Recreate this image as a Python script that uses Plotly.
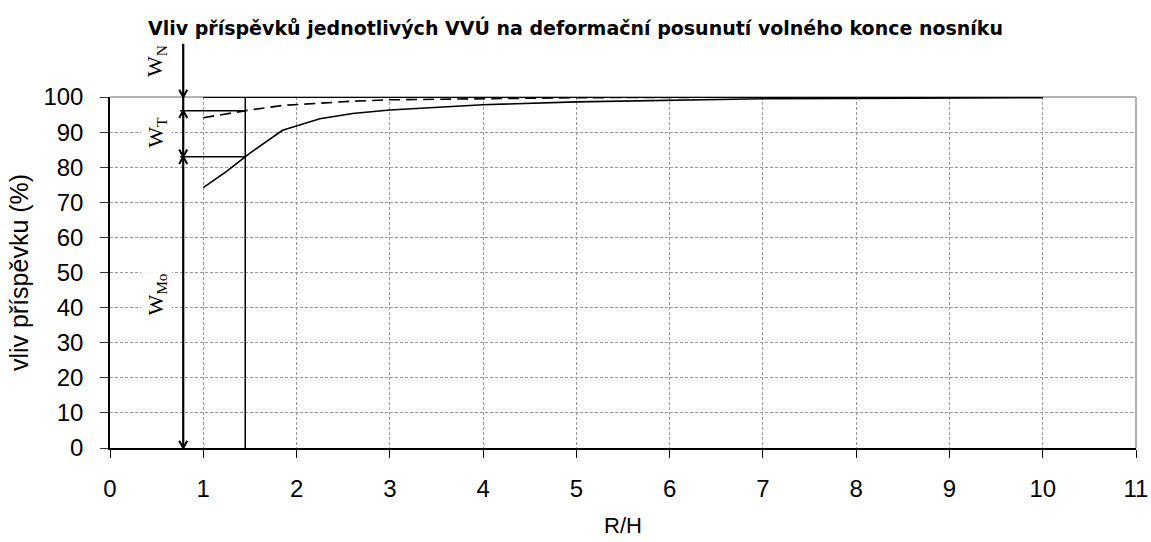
import numpy as np
import plotly.graph_objects as go

# R/H ratios and the share (%) of the free-end deflection
rh = [1.0, 1.25, 1.5, 1.85, 2.25, 2.6, 3.0, 4.0, 5.0, 6.0, 7.0, 8.0, 9.0, 10.0]
w_mo = [74.2, 78.8, 84.0, 90.5, 93.8, 95.3, 96.3, 97.8, 98.6, 99.1, 99.5, 99.6, 99.7, 99.8]
w_mo_t = [94.1, 95.2, 96.3, 97.6, 98.3, 98.8, 99.2, 99.6, 99.8, 99.9, 100.0, 100.0, 100.0, 100.0]
w_total = [100.0] * len(rh)

# R/H value highlighted by the dimension arrows
marker_rh = 1.45
arrow_rh = 0.785
arrow_top = 115.6

x_ticks = list(range(0, 12))
y_ticks = list(range(0, 101, 10))

level_mo = float(np.interp(marker_rh, rh, w_mo))
level_mo_t = float(np.interp(marker_rh, rh, w_mo_t))

fig = go.Figure()

fig.add_trace(go.Scatter(x=rh, y=w_total, mode="lines",
                         line=dict(color="black", width=2), showlegend=False))
fig.add_trace(go.Scatter(x=rh, y=w_mo_t, mode="lines",
                         line=dict(color="black", width=1.6, dash="11px,6px"),
                         showlegend=False))
fig.add_trace(go.Scatter(x=rh, y=w_mo, mode="lines",
                         line=dict(color="black", width=1.6), showlegend=False))

# vertical marker at the chosen R/H and horizontal level lines
fig.add_trace(go.Scatter(x=[marker_rh, marker_rh], y=[0, 100], mode="lines",
                         line=dict(color="black", width=1.5), showlegend=False))
for lvl in (level_mo_t, level_mo):
    fig.add_trace(go.Scatter(x=[0.75, marker_rh], y=[lvl, lvl], mode="lines",
                             line=dict(color="black", width=1.5), showlegend=False))

annotations = []


def seg(x0, y0, x1, y1, width=2):
    annotations.append(dict(x=x1, y=y1, ax=x0, ay=y0, xref="x", yref="y",
                            axref="x", ayref="y", text="", showarrow=True,
                            arrowhead=0, arrowwidth=width, arrowcolor="black",
                            standoff=0, startstandoff=0))


def head(x, y, direction):
    # open chevron arrow head; direction -1 points down, +1 points up
    dx, dy = 0.052, 2.5
    seg(x - dx, y - direction * dy, x, y, 2)
    seg(x + dx, y - direction * dy, x, y, 2)


seg(arrow_rh, arrow_top, arrow_rh, 0, 2.2)
head(arrow_rh, 100, -1)
head(arrow_rh, level_mo_t, 1)
head(arrow_rh, level_mo, -1)
head(arrow_rh, level_mo, 1)
head(arrow_rh, 0, -1)

serif = dict(family="Liberation Serif, Times New Roman, serif", size=22, color="black")
for txt, yv in (("W<sub>N</sub>", 115.3), ("W<sub>T</sub>", 95.0), ("W<sub>Mo</sub>", 43.6)):
    annotations.append(dict(x=0.5, y=yv / 100, xref="x", yref="paper", text=txt,
                            showarrow=False, textangle=-90, font=serif, bgcolor="white"))

fig.update_layout(
    width=1151, height=542,
    margin=dict(l=110, r=15, t=97, b=94),
    paper_bgcolor="white", plot_bgcolor="white",
    font=dict(family="Liberation Sans, Arial, sans-serif", color="black"),
    title=dict(text="<b>Vliv příspěvků jednotlivých VVÚ na deformační posunutí volného konce nosníku</b>",
               x=0.5, xanchor="center", y=0.948, yanchor="middle",
               font=dict(family="DejaVu Sans, sans-serif", size=19, color="black")),
    annotations=annotations,
    shapes=[
        dict(type="line", xref="paper", yref="paper", x0=0, x1=1, y0=1, y1=1,
             line=dict(color="#9a9a9a", width=1.5), layer="below"),
        dict(type="line", xref="paper", yref="paper", x0=1, x1=1, y0=0, y1=1,
             line=dict(color="#9a9a9a", width=1.5), layer="below"),
    ],
)

fig.update_xaxes(range=[0, 11], tickvals=x_ticks, ticktext=[str(v) for v in x_ticks],
                 automargin=False,
                 showgrid=True, gridcolor="#9a9a9a", griddash="3px,2px", gridwidth=1,
                 zeroline=False, showline=True, linecolor="black", linewidth=1.5,
                 ticks="outside", ticklen=8, tickcolor="black", tickwidth=1,
                 ticklabelstandoff=10, tickfont=dict(size=24),
                 title=dict(text="R/H", font=dict(size=22), standoff=17))
fig.update_yaxes(range=[0, 100], tickvals=y_ticks, ticktext=[str(v) for v in y_ticks],
                 automargin=False,
                 showgrid=True, gridcolor="#9a9a9a", griddash="3px,2px", gridwidth=1,
                 zeroline=False, showline=True, linecolor="black", linewidth=1.5,
                 ticks="outside", ticklen=8, tickcolor="#333", tickwidth=1,
                 ticklabelstandoff=12, tickfont=dict(size=24),
                 title=dict(text="vliv příspěvku (%)", font=dict(size=25), standoff=8))

fig.write_html("out.html")
